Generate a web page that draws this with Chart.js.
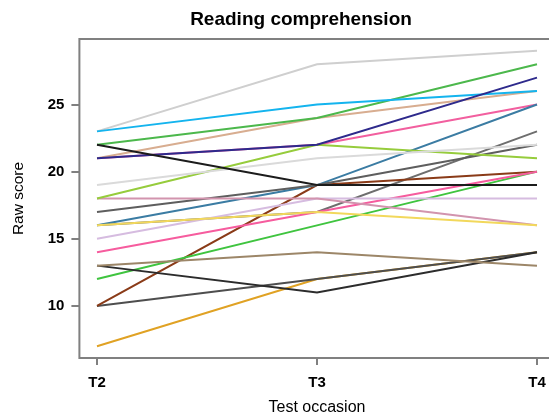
<!DOCTYPE html>
<html>
<head>
<meta charset="utf-8">
<script src="https://cdn.jsdelivr.net/npm/chart.js@4.4.1/dist/chart.umd.min.js"></script>
<style>
  html, body { margin: 0; padding: 0; background: #ffffff; overflow: hidden; }
  #wrap { position: relative; width: 556px; height: 417px; }
</style>
</head>
<body>
<div id="wrap"><canvas id="c"></canvas></div>
<script>
// ---- data ----
const chartTitle = 'Reading comprehension';
const xTitle = 'Test occasion';
const yTitle = 'Raw score';
const categories = ['T2', 'T3', 'T4'];
const yTickValues = [10, 15, 20, 25];

const blackA      = [22, 19, 19];
const navy        = [21, 22, 27];
const yellow      = [16, 17, 16];
const cyan        = [23, 25, 26];
const greenA      = [22, 24, 28];
const tan         = [21, 24, 26];
const lightGreyA  = [23, 28, 29];
const lightGreyB  = [19, 21, 22];
const yellowGreen = [18, 22, 21];
const mauve       = [18, 18, 16];
const darkGreyA   = [17, 19, 22];
const steelBlue   = [16, 19, 25];
const lavender    = [15, 18, 18];
const pinkA       = [14, 17, 20];
const brownTan    = [13, 14, 13];
const blackB      = [13, 11, 14];
const greenB      = [12, 16, 20];
const brown       = [10, 19, 20];
const darkGreyB   = [10, 12, 14];
const orange      = [7, 12, 14];
const hotPink     = [21, 22, 25];
const greyC       = [16, 17, 23];

const seriesList = [blackA, navy, yellow, cyan, greenA, tan, lightGreyA, lightGreyB,
  yellowGreen, mauve, darkGreyA, steelBlue, lavender, pinkA, brownTan, blackB,
  greenB, brown, darkGreyB, orange, hotPink, greyC];
const seriesColors = ['#1c1c1c', '#2e2a8c', '#f2d85c', '#14b4ee', '#4cb84c', '#d8ad90',
  '#cfcfcf', '#dadada', '#96cc3c', '#d294ae', '#5e5e5e', '#3b7ca3', '#d6bce0', '#f65c9e',
  '#9c8668', '#2c2c2c', '#3fc43f', '#8a3b18', '#4e4e4e', '#e0a224', '#f25f9f', '#6e6e6e'];

// ---- chart ----
const FONT = "'Liberation Sans', Arial, Helvetica, sans-serif";

const boxPlugin = {
  id: 'box',
  afterDraw(chart) {
    const a = chart.chartArea, ctx = chart.ctx;
    ctx.save();
    ctx.strokeStyle = '#808080';
    ctx.lineWidth = 2;
    ctx.strokeRect(a.left, a.top, a.right - a.left, a.bottom - a.top);
    ctx.fillStyle = '#000';
    ctx.font = 'bold 19px ' + FONT;
    ctx.textAlign = 'center';
    ctx.textBaseline = 'middle';
    ctx.fillText(chartTitle, 301, 20);
    ctx.restore();
  }
};

new Chart(document.getElementById('c'), {
  type: 'line',
  data: {
    datasets: seriesList.map((s, i) => ({
      data: s.map((v, j) => ({ x: j, y: v })),
      borderColor: seriesColors[i],
      borderWidth: 2,
      pointRadius: 0,
      tension: 0,
      fill: false
    }))
  },
  options: {
    responsive: true,
    maintainAspectRatio: false,
    animation: false,
    layout: { padding: { top: 39, right: 1.4, left: 0, bottom: 0 } },
    plugins: { legend: { display: false }, title: { display: false }, tooltip: { enabled: false } },
    scales: {
      x: {
        type: 'linear',
        min: -0.08, max: 2.08,
        afterBuildTicks: (sc) => { sc.ticks = categories.map((c, i) => ({ value: i })); },
        afterFit: (sc) => { sc.height = 59; },
        ticks: {
          callback: (v) => categories[v],
          font: { family: FONT, size: 15, weight: 'bold' },
          color: '#000',
          padding: 9,
          maxRotation: 0
        },
        grid: { drawOnChartArea: false, drawTicks: true, tickLength: 7, color: '#808080', lineWidth: 2 },
        border: { display: false },
        title: { display: true, text: xTitle, font: { family: FONT, size: 16 }, color: '#000', padding: { top: 0, bottom: 0 } }
      },
      y: {
        min: 6.12, max: 29.88,
        afterBuildTicks: (sc) => { sc.ticks = yTickValues.map(v => ({ value: v })); },
        afterFit: (sc) => { sc.width = 79.4; },
        ticks: {
          font: { family: FONT, size: 15, weight: 'bold' },
          color: '#000',
          padding: 7
        },
        grid: { drawOnChartArea: false, drawTicks: true, tickLength: 8, color: '#808080', lineWidth: 2 },
        border: { display: false },
        title: { display: true, text: yTitle, font: { family: FONT, size: 15.5 }, color: '#000', padding: { top: 9, bottom: 0 } }
      }
    }
  },
  plugins: [boxPlugin]
});
</script>
</body>
</html>
